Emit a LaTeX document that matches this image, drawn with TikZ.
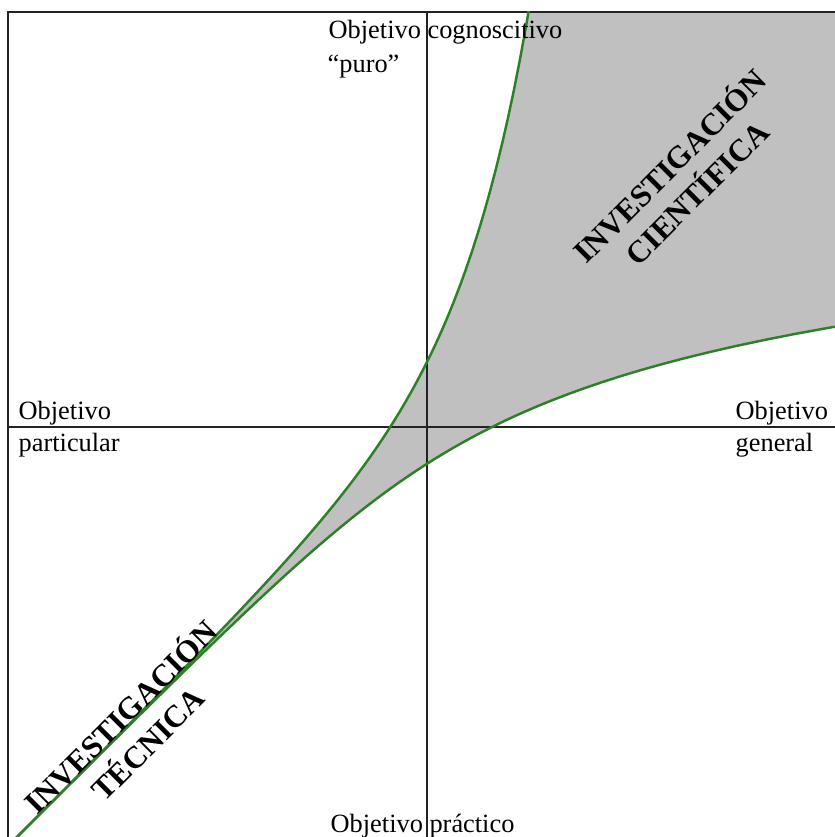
\documentclass[tikz,border=0pt]{standalone}
\usepackage{fontspec}
\setmainfont{Liberation Serif}
\usetikzlibrary{positioning}

\definecolor{curvegreen}{RGB}{46,128,40}
\definecolor{zonegray}{RGB}{192,192,192}
\definecolor{axisblack}{RGB}{35,35,35}

\tikzset{
  axislabel/.style={font=\fontsize{7.5}{9}\selectfont, inner sep=0pt, anchor=base west},
  zonelabel/.style={font=\bfseries\fontsize{8.9}{10.9}\selectfont, align=center, rotate=45, inner sep=0pt},
  curveline/.style={curvegreen, line width=0.7pt},
  axisline/.style={axisblack, line width=0.6pt}
}

\begin{document}
\begin{tikzpicture}
                \useasboundingbox (-4.27,-4.10) rectangle (4.08,4.27);

                % Frame and axes
                \coordinate (tl) at (-4.19,4.15);
                \coordinate (tr) at (4.08,4.15);
                \coordinate (bl) at (-4.19,-4.10);
                \coordinate (axtop) at (0,4.15);
                \coordinate (axbot) at (0,-4.10);
                \coordinate (axleft) at (-4.19,0);
                \coordinate (axright) at (4.08,0);

                % Shaded zone between the curves
                \begin{scope}
                    \clip (bl) rectangle (tr);
                    \fill[zonegray] plot[domain=-4.3:1.05, samples=90] ({\x}, {\x+0.65*exp(1.55*\x)})
                        -- (4.6,4.6)
                        -- plot[domain=1.05:-4.3, samples=90] ({\x+0.65*exp(1.55*\x)}, {\x}) -- cycle;
                \end{scope}

                \draw[axisline] (bl) -- (tl) -- (tr);
                \draw[axisline] (axtop) -- (axbot);
                \draw[axisline] (axleft) -- (axright);

                % Curves
                \begin{scope}
                    \clip (bl) rectangle (tr);
                    \draw[curveline] plot[domain=-4.3:1.05, samples=90] ({\x}, {\x+0.65*exp(1.55*\x)});
                    \draw[curveline] plot[domain=-4.3:1.05, samples=90] ({\x+0.65*exp(1.55*\x)}, {\x});
                \end{scope}

                % Axis labels
                \node[axislabel] (cog) at (-0.99,3.88) {Objetivo cognoscitivo};
                \node[axislabel] (puro) at (-1.00,3.54) {“puro”};
                \node[axislabel] (part1) at (-4.09,0.07) {Objetivo};
                \node[axislabel] (part2) at (-4.09,-0.25) {particular};
                \node[axislabel] (gen1) at (3.08,0.07) {Objetivo};
                \node[axislabel] (gen2) at (3.08,-0.25) {general};
                \node[axislabel] (prac) at (-0.97,-4.05) {Objetivo práctico};

                % Zones
                \node[zonelabel] (cient) at (2.55,2.49) {INVESTIGACIÓN\\CIENTÍFICA};
                \node[zonelabel] (tecn) at (-2.94,-3.02) {INVESTIGACIÓN\\TÉCNICA};
\end{tikzpicture}
\end{document}
